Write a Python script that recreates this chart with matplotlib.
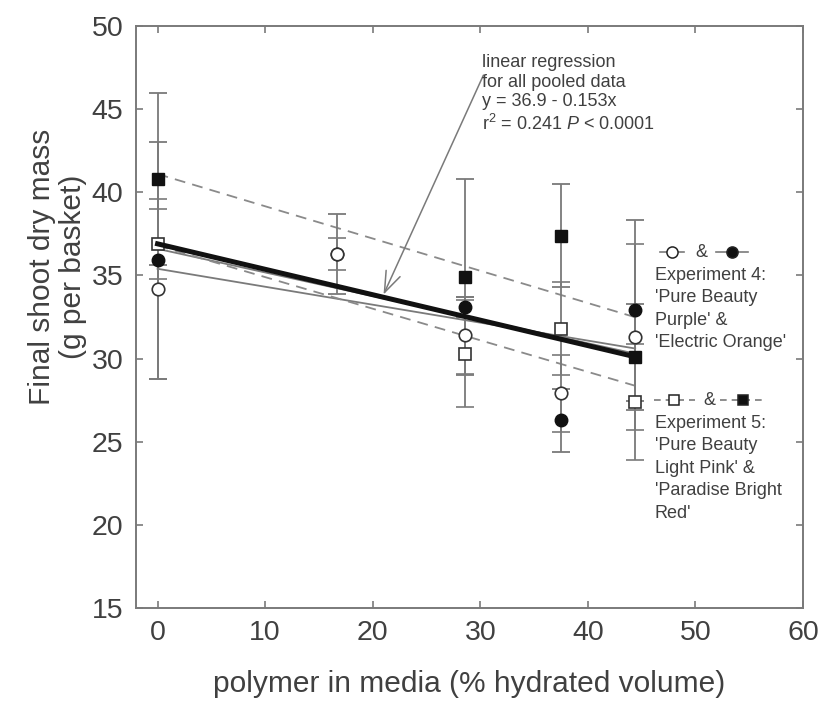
import numpy as np
import matplotlib
matplotlib.use("Agg")
import matplotlib.pyplot as plt

plt.rcParams['font.family'] = ['Liberation Sans', 'DejaVu Sans']
plt.rcParams['mathtext.fontset'] = 'custom'
plt.rcParams['mathtext.rm'] = 'Liberation Sans'
plt.rcParams['mathtext.it'] = 'Liberation Sans:italic'

# Experiment 4 (circles)
x_exp4 = [0, 16.7, 28.6, 37.5, 44.4]
purple = [34.2, 36.3, 31.4, 27.9, 31.3]          # 'Pure Beauty Purple' (open)
purple_err = [5.4, 0.95, 2.3, 2.3, 5.6]
orange = [35.9, 36.3, 33.1, 26.3, 32.9]          # 'Electric Orange' (filled)
orange_err = [7.1, 2.4, 0.6, 1.9, 5.45]

# Experiment 5 (squares)
x_exp5 = [0, 28.6, 37.5, 44.4]
pink = [36.9, 30.3, 31.8, 27.4]                  # 'Pure Beauty Light Pink' (open)
pink_err = [2.1, 3.2, 2.8, 3.5]
red = [40.8, 34.9, 37.4, 30.1]                   # 'Paradise Bright Red' (filled)
red_err = [5.2, 5.9, 3.1, 3.2]

# regression lines (intercept, slope)
fit_pooled = (36.9, -0.153)
fit_purple = (35.4, -0.108)
fit_orange = (36.6, -0.142)
fit_pink = (36.8, -0.19)
fit_red = (41.1, -0.194)

grey = '#7a7a7a'
txt = '#404040'

fig = plt.figure(figsize=(8.21, 7.05), dpi=100)
ax = fig.add_axes([0.1657, 0.1376, 0.8124, 0.8255])

xf = np.array([0, 44.4])
def fitline(fit):
    return fit[0] + fit[1] * xf

ax.plot(xf, fitline(fit_purple), color=grey, lw=1.3, zorder=2)
ax.plot(xf, fitline(fit_orange), color=grey, lw=1.3, zorder=2)
ax.plot(xf, fitline(fit_pink), color='#8a8a8a', lw=1.3, ls=(0, (6, 4)), zorder=2)
ax.plot(xf, fitline(fit_red), color='#8a8a8a', lw=1.3, ls=(0, (6, 4)), zorder=2)

ebkw = dict(ecolor=grey, elinewidth=1.3, capsize=6.5, capthick=1.3, ls='none', zorder=3)
ax.errorbar(x_exp4, orange, yerr=orange_err, fmt='o', ms=9, mfc='#111111', mec='#111111', **ebkw)
ax.errorbar(x_exp4, purple, yerr=purple_err, fmt='o', ms=9, mfc='white', mec='#333333', mew=1.2, **ebkw)
ax.errorbar(x_exp5, red, yerr=red_err, fmt='s', ms=8, mfc='#111111', mec='#111111', **ebkw)
ax.errorbar(x_exp5, pink, yerr=pink_err, fmt='s', ms=8, mfc='white', mec='#333333', mew=1.2, **ebkw)

ax.plot(xf, fitline(fit_pooled), color='#111111', lw=3.6, zorder=4)

ax.set_xlim(-2, 60)
ax.set_ylim(15, 50)
ax.set_xticks(range(0, 61, 10))
ax.set_yticks(range(15, 51, 5))
ax.tick_params(direction='in', top=True, right=True, length=5, width=1.2,
               color=grey, labelsize=20.5, labelcolor=txt, pad=9)
for s in ax.spines.values():
    s.set_color(grey)
    s.set_linewidth(1.4)

ax.set_xlabel('polymer in media (% hydrated volume)', fontsize=21.5, color=txt, labelpad=17)
ax.set_ylabel('Final shoot dry mass\n(g per basket)', fontsize=21.5, color=txt,
              linespacing=1.15)
ax.yaxis.set_label_coords(-0.073, 0.586)

# annotation for pooled regression
ax.annotate('', xy=(20.9, 33.7), xytext=(30.4, 47.2),
            arrowprops=dict(arrowstyle='->,head_length=1.5,head_width=0.55', color=grey, lw=1.1))
ax.text(30.2, 48.3, 'linear regression\nfor all pooled data\ny = 36.9 - 0.153x\nr$^2$ = 0.241 $\\it{P}$ < 0.0001',
        fontsize=13, color=txt, va='top', ha='left', linespacing=1.2)

# legend glyphs
def glyph(x0, x1, y, marker, fill, ls):
    ax.plot([x0, x1], [y, y], color=grey, lw=1.2, ls=ls, transform=ax.transAxes, clip_on=False)
    ax.plot([(x0 + x1) / 2], [y], marker=marker, ms=8 if marker == 'o' else 7.5,
            mfc=fill, mec='#222222', mew=1.1, transform=ax.transAxes, clip_on=False)

y4 = 0.611
glyph(0.786, 0.822, y4, 'o', 'white', '-')
ax.text(0.848, y4, '&', transform=ax.transAxes, fontsize=13, color=txt, ha='center', va='center')
glyph(0.870, 0.918, y4, 'o', '#111111', '-')
ax.text(0.778, y4 - 0.025, "Experiment 4:\n'Pure Beauty\nPurple' &\n'Electric Orange'",
        transform=ax.transAxes, fontsize=13, color=txt, va='top', ha='left', linespacing=1.42)

y5 = 0.357
glyph(0.776, 0.838, y5, 's', 'white', (0, (4, 3)))
ax.text(0.86, y5, '&', transform=ax.transAxes, fontsize=13, color=txt, ha='center', va='center')
glyph(0.876, 0.944, y5, 's', '#111111', (0, (4, 3)))
ax.text(0.778, y5 - 0.025, "Experiment 5:\n'Pure Beauty\nLight Pink' &\n'Paradise Bright\nRed'",
        transform=ax.transAxes, fontsize=13, color=txt, va='top', ha='left', linespacing=1.42)

fig.savefig('out.png', dpi=100)
